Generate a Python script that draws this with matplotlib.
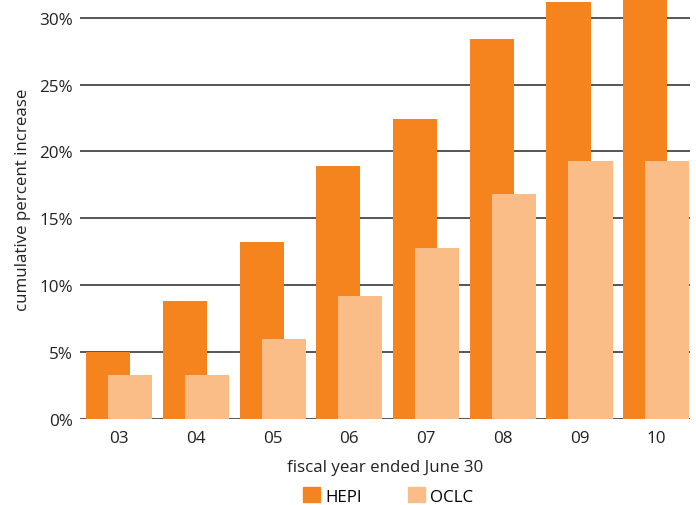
import matplotlib
matplotlib.use("Agg")
import matplotlib.pyplot as plt
import numpy as np
from matplotlib.patches import Patch

categories = ["03", "04", "05", "06", "07", "08", "09", "10"]
hepi = [5.0, 8.8, 13.2, 18.9, 22.4, 28.4, 31.2, 31.8]
oclc = [3.3, 3.3, 6.0, 9.2, 12.8, 16.8, 19.3, 19.3]
yticks = [0, 5, 10, 15, 20, 25, 30]

plt.rcParams['font.family'] = ['Open Sans', 'DejaVu Sans']

fig = plt.figure(figsize=(6.96, 5.06), dpi=100)
ax = fig.add_axes([80/696, 1-420/506, 610/696, 420/506])

x = np.arange(len(categories))
w = 0.574
off = 0.1435
c_hepi = "#F5841F"
c_oclc = "#FABD87"

for yv in yticks:
    ax.axhline(yv, color="#555555", lw=1.4, zorder=0)

ax.bar(x - off, hepi, width=w, color=c_hepi, zorder=2)
ax.bar(x + off, oclc, width=w, color=c_oclc, zorder=3)

ax.set_xlim(-0.51, 7.44)
ax.set_ylim(0, 31.4)
ax.set_yticks(yticks)
ax.set_yticklabels([f"{v}%" for v in yticks])
ax.set_xticks(x)
ax.set_xticklabels(categories)
ax.tick_params(axis="both", length=0, labelsize=12.3, colors="#222222")
ax.tick_params(axis="y", pad=5)
ax.tick_params(axis="x", pad=8)
for s in ax.spines.values():
    s.set_visible(False)

ax.set_ylabel("cumulative percent increase", fontsize=12.2, color="#222222")
ax.yaxis.set_label_coords(-49/610, (420-200)/420)
ax.set_xlabel("fiscal year ended June 30", fontsize=12.2, color="#222222", labelpad=9)

handles = [Patch(color=c_hepi, label="HEPI"), Patch(color=c_oclc, label="OCLC")]
fig.legend(handles=handles, loc="center", bbox_to_anchor=(388/696, 1-497/506), ncol=2,
           frameon=False, fontsize=12.2, handlelength=1.0, handleheight=1.0,
           handletextpad=0.3, columnspacing=2.7)

fig.savefig("out.png", dpi=100)
